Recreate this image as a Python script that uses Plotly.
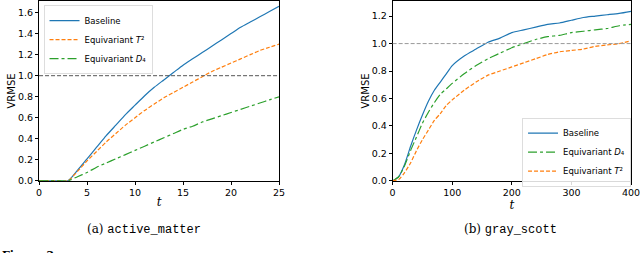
import plotly.graph_objects as go

# ---- (a) active_matter ----
t_a = [0, 1, 2, 3, 4, 5, 6, 7, 8, 9, 10, 11, 12, 13, 14, 15, 16, 17, 18, 19, 20, 21, 22, 23, 24, 25]
base_a = [0, 0, 0, 0, 0.10, 0.21, 0.32, 0.43, 0.53, 0.63, 0.72, 0.81, 0.89, 0.96, 1.03, 1.10, 1.16, 1.22, 1.28, 1.34, 1.40, 1.46, 1.51, 1.56, 1.61, 1.66]
t2_a = [0, 0, 0, 0, 0.09, 0.19, 0.28, 0.37, 0.45, 0.53, 0.60, 0.67, 0.73, 0.79, 0.84, 0.89, 0.94, 0.99, 1.04, 1.08, 1.12, 1.16, 1.20, 1.24, 1.27, 1.30]
d4_a = [0, 0, 0, 0, 0.04, 0.08, 0.13, 0.17, 0.21, 0.25, 0.29, 0.33, 0.37, 0.41, 0.45, 0.49, 0.52, 0.56, 0.59, 0.62, 0.65, 0.68, 0.71, 0.74, 0.77, 0.80]

# ---- (b) gray_scott ----
t_b = [0, 10, 20, 30, 40, 50, 60, 70, 80, 90, 100, 120, 140, 160, 180, 200, 220, 240, 260, 280, 300, 320, 340, 360, 380, 400]
base_b = [0, 0.03, 0.12, 0.25, 0.37, 0.48, 0.58, 0.66, 0.72, 0.78, 0.84, 0.91, 0.96, 1.01, 1.04, 1.08, 1.10, 1.12, 1.14, 1.15, 1.17, 1.19, 1.20, 1.21, 1.22, 1.235]
d4_b = [0, 0.03, 0.11, 0.22, 0.32, 0.42, 0.50, 0.57, 0.63, 0.67, 0.71, 0.78, 0.84, 0.89, 0.93, 0.97, 1.00, 1.03, 1.05, 1.06, 1.08, 1.09, 1.10, 1.11, 1.13, 1.14]
t2_b = [0, 0.01, 0.06, 0.13, 0.22, 0.30, 0.37, 0.44, 0.49, 0.55, 0.59, 0.66, 0.72, 0.77, 0.80, 0.83, 0.86, 0.89, 0.92, 0.94, 0.95, 0.96, 0.98, 0.99, 1.00, 1.02]

BLUE, ORANGE, GREEN = "#1f77b4", "#ff7f0e", "#2ca02c"
LBL_BASE = "Baseline"
LBL_T2 = "Equivariant <i>T</i>²"
LBL_D4 = "Equivariant <i>D</i>₄"
CAP_A = "(a) <span style=\"font-family:'Liberation Mono'\">active_matter</span>"
CAP_B = "(b) <span style=\"font-family:'Liberation Mono'\">gray_scott</span>"

def line(color, dash=None):
    d = dict(color=color, width=1.2, shape="spline", smoothing=0.6)
    if dash:
        d["dash"] = dash
    return d

fig = go.Figure()
# left panel
fig.add_trace(go.Scatter(x=t_a, y=base_a, name=LBL_BASE, mode="lines", line=line(BLUE), legend="legend", xaxis="x", yaxis="y"))
fig.add_trace(go.Scatter(x=t_a, y=t2_a, name=LBL_T2, mode="lines", line=line(ORANGE, "4px,2px"), legend="legend", xaxis="x", yaxis="y"))
fig.add_trace(go.Scatter(x=t_a, y=d4_a, name=LBL_D4, mode="lines", line=line(GREEN, "dashdot"), legend="legend", xaxis="x", yaxis="y"))
# right panel
fig.add_trace(go.Scatter(x=t_b, y=base_b, name=LBL_BASE, mode="lines", line=line(BLUE), legend="legend2", xaxis="x2", yaxis="y2"))
fig.add_trace(go.Scatter(x=t_b, y=d4_b, name=LBL_D4, mode="lines", line=line(GREEN, "dashdot"), legend="legend2", xaxis="x2", yaxis="y2"))
fig.add_trace(go.Scatter(x=t_b, y=t2_b, name=LBL_T2, mode="lines", line=line(ORANGE, "4px,2px"), legend="legend2", xaxis="x2", yaxis="y2"))

fig.add_shape(type="line", xref="x domain", yref="y", x0=0, x1=1, y0=1, y1=1, line=dict(color="#555555", width=1, dash="4px,2px"))
fig.add_shape(type="line", xref="x2 domain", yref="y2", x0=0, x1=1, y0=1, y1=1, line=dict(color="#999999", width=1, dash="4px,2px"))

ax_common = dict(showline=True, linecolor="black", linewidth=1, mirror=True, ticks="outside", ticklen=3,
                 tickcolor="black", showgrid=False, zeroline=False, automargin=False, ticklabeloverflow="allow",
                 tickfont=dict(size=9.5, color="black"))
dom_y = [0.285, 0.996]
fig.update_layout(
    width=640, height=253, margin=dict(l=0, r=0, t=0, b=0, autoexpand=False),
    paper_bgcolor="white", plot_bgcolor="white",
    font=dict(family="DejaVu Sans", color="black"),
    xaxis=dict(domain=[0.061, 0.436], range=[0, 25], tickvals=[0, 5, 10, 15, 20, 25], anchor="y",
               title=dict(text="<i>t</i>", font=dict(family="DejaVu Serif", size=12), standoff=0), **ax_common),
    yaxis=dict(domain=dom_y, range=[0, 1.71], tickvals=[0, 0.2, 0.4, 0.6, 0.8, 1.0, 1.2, 1.4, 1.6], tickformat=".1f", anchor="x",
               title=dict(text="VRMSE", font=dict(size=10), standoff=0), **ax_common),
    xaxis2=dict(domain=[0.6135, 0.986], range=[0, 400], tickvals=[0, 100, 200, 300, 400], anchor="y2",
                title=dict(text="<i>t</i>", font=dict(family="DejaVu Serif", size=12), standoff=0), **ax_common),
    yaxis2=dict(domain=dom_y, range=[0, 1.31], tickvals=[0, 0.2, 0.4, 0.6, 0.8, 1.0, 1.2], tickformat=".1f", anchor="x2",
                title=dict(text="VRMSE", font=dict(size=10), standoff=0), **ax_common),
    legend=dict(x=0.068, y=0.98, xanchor="left", yanchor="top", bgcolor="rgba(255,255,255,0.85)",
                bordercolor="#dddddd", borderwidth=1, font=dict(size=8.5), tracegroupgap=0, itemwidth=30),
    legend2=dict(x=0.986, y=0.535, xanchor="right", yanchor="top", bgcolor="rgba(255,255,255,0.85)",
                 bordercolor="#dddddd", borderwidth=1, font=dict(size=8.5), tracegroupgap=0, itemwidth=30),
    showlegend=True,
    annotations=[
        dict(text=CAP_A, x=144 / 640, y=1 - 229 / 253, xref="paper", yref="paper", showarrow=False,
             font=dict(family="DejaVu Serif", size=12), xanchor="center", yanchor="middle"),
        dict(text=CAP_B, x=510 / 640, y=1 - 229 / 253, xref="paper", yref="paper", showarrow=False,
             font=dict(family="DejaVu Serif", size=12), xanchor="center", yanchor="middle"),
        dict(text="<b>Figure 3:</b>", x=0.0, y=1 - 255 / 253, xref="paper", yref="paper", showarrow=False,
             font=dict(family="DejaVu Serif", size=11), xanchor="left", yanchor="middle"),
    ],
)

fig.write_html("out.html", config={"displayModeBar": False},
               post_script="document.body.style.margin='0';document.body.style.overflow='hidden';")
